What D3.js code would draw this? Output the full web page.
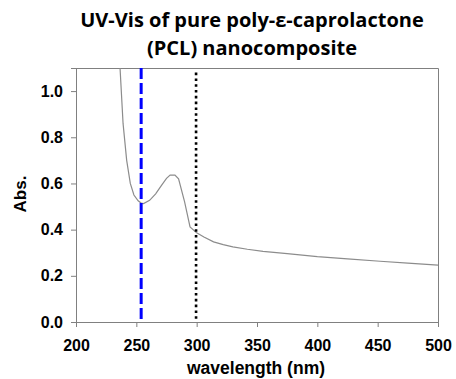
<!DOCTYPE html>
<html>
<head>
<meta charset="utf-8">
<script src="https://cdn.jsdelivr.net/npm/d3@7"></script>
<style>
  body { margin: 0; background: #fff; }
  svg { display: block; }
  .tick text { font-family: "Liberation Sans", Arial, sans-serif; font-weight: bold; font-size: 16px; fill: #000; }
</style>
</head>
<body>
<svg id="chart" width="456" height="379"></svg>
<script>
"use strict";

// spectrum
const wavelength = [234, 236.5, 239, 242, 245, 248, 251.5, 254, 256, 261, 266, 271, 275, 278, 282, 285, 290, 294.5, 300, 306, 314, 322, 330, 342, 355, 375, 400, 425, 452, 475, 500];
const absorbance = [1.25, 1.10, 0.86, 0.70, 0.60, 0.55, 0.525, 0.515, 0.513, 0.527, 0.555, 0.593, 0.622, 0.636, 0.636, 0.62, 0.52, 0.412, 0.386, 0.368, 0.347, 0.335, 0.325, 0.315, 0.306, 0.296, 0.283, 0.273, 0.263, 0.255, 0.246];

// vertical marker lines
const markers = [
  { x: 254, color: "#0000ff", width: 3, dash: "11,4", top: 1.1 },
  { x: 299.5, color: "#000000", width: 2.6, dash: "2.6,3.2", top: 1.08 }
];

const xTicks = [200, 250, 300, 350, 400, 450, 500];
const yTicks = [0.0, 0.2, 0.4, 0.6, 0.8, 1.0];
const titleLines = ["UV-Vis of pure poly-\u03b5-caprolactone", "(PCL) nanocomposite"];

const svg = d3.select("#chart");
const mLeft = 76, mTop = 68, mRight = 438, mBottom = 322;

const x = d3.scaleLinear().domain([200, 500]).range([mLeft, mRight]);
const y = d3.scaleLinear().domain([0, 1.1]).range([mBottom, mTop]);

svg.append("defs").append("clipPath").attr("id", "plot")
  .append("rect").attr("x", mLeft).attr("y", mTop).attr("width", mRight - mLeft).attr("height", mBottom - mTop);

// frame (top and right)
svg.append("path")
  .attr("d", `M${mLeft},${mTop + 0.5}H${mRight + 0.5}V${mBottom}`)
  .attr("fill", "none").attr("stroke", "#808080").attr("stroke-width", 1);

// axes
const xAxis = svg.append("g").attr("transform", `translate(0,${mBottom})`)
  .call(d3.axisBottom(x).tickValues(xTicks).tickFormat(d3.format("d")).tickSize(5).tickPadding(8));
const yAxis = svg.append("g").attr("transform", `translate(${mLeft},0)`)
  .call(d3.axisLeft(y).tickValues(yTicks).tickFormat(d3.format(".1f")).tickSize(5).tickPadding(8));
[xAxis, yAxis].forEach(a => {
  a.selectAll(".domain").attr("stroke", "#808080");
  a.selectAll(".tick line").attr("stroke", "#808080");
});
xAxis.selectAll(".tick text").attr("dy", "1.0em");

// spectrum
const pts = wavelength.map((w, i) => [w, absorbance[i]]);
svg.append("path")
  .datum(pts)
  .attr("clip-path", "url(#plot)")
  .attr("fill", "none")
  .attr("stroke", "#8c8c8c")
  .attr("stroke-width", 1.2)
  .attr("d", d3.line().x(d => x(d[0])).y(d => y(d[1])));

// markers
svg.selectAll("line.marker").data(markers).enter().append("line")
  .attr("class", "marker")
  .attr("x1", d => x(d.x)).attr("x2", d => x(d.x))
  .attr("y1", d => y(d.top)).attr("y2", mBottom)
  .attr("stroke", d => d.color)
  .attr("stroke-width", d => d.width)
  .attr("stroke-dasharray", d => d.dash);

// titles
svg.selectAll("text.title").data(titleLines).enter().append("text")
  .attr("class", "title")
  .attr("x", 252).attr("y", (d, i) => 27 + i * 28)
  .attr("text-anchor", "middle")
  .style("font-family", "'Open Sans', sans-serif")
  .style("font-weight", "bold")
  .style("font-size", "20px")
  .text(d => d);

svg.append("text")
  .attr("x", 256).attr("y", 374)
  .attr("text-anchor", "middle")
  .style("font-family", "'Liberation Sans', Arial, sans-serif")
  .style("font-weight", "bold").style("font-size", "17.5px")
  .text("wavelength (nm)");

svg.append("text")
  .attr("transform", "translate(26,194) rotate(-90)")
  .attr("text-anchor", "middle")
  .style("font-family", "'Liberation Sans', Arial, sans-serif")
  .style("font-weight", "bold").style("font-size", "17px")
  .text("Abs.");
</script>
</body>
</html>
